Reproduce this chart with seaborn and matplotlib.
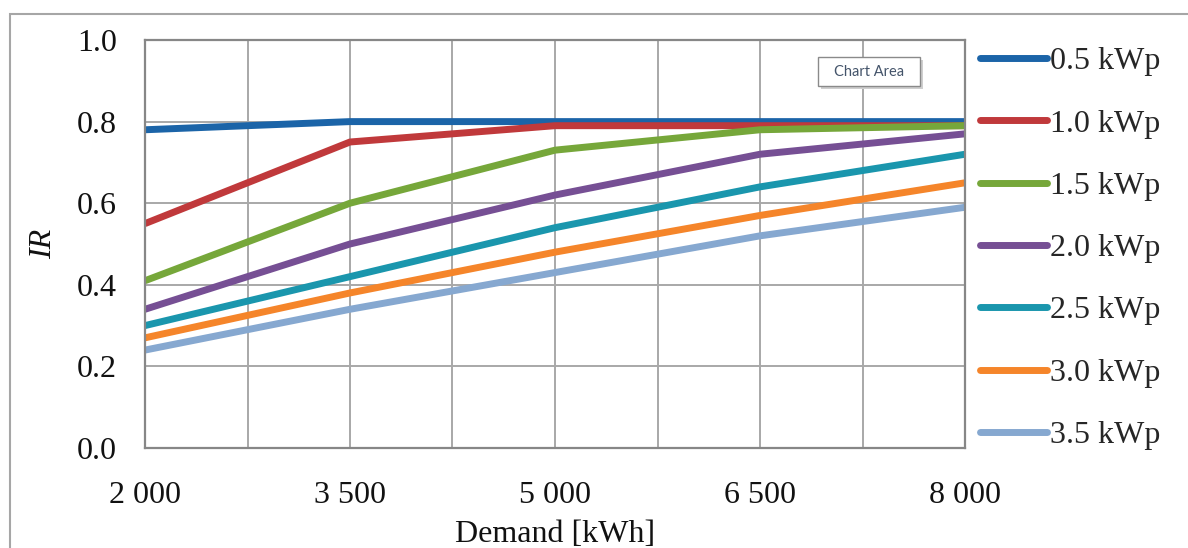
import matplotlib
matplotlib.use("Agg")
import numpy as np
import pandas as pd
import matplotlib.pyplot as plt
import seaborn as sns
from matplotlib.patches import Rectangle
from matplotlib.lines import Line2D
from matplotlib.ticker import FixedLocator, FixedFormatter, FormatStrFormatter

# ---- data ----
demand = [2000, 3500, 5000, 6500, 8000]
tick_labels = ["2 000", "3 500", "5 000", "6 500", "8 000"]
series_labels = ["0.5 kWp", "1.0 kWp", "1.5 kWp", "2.0 kWp", "2.5 kWp", "3.0 kWp", "3.5 kWp"]
ir_05 = [0.78, 0.80, 0.80, 0.80, 0.80]
ir_10 = [0.55, 0.75, 0.79, 0.79, 0.79]
ir_15 = [0.41, 0.60, 0.73, 0.78, 0.79]
ir_20 = [0.34, 0.50, 0.62, 0.72, 0.77]
ir_25 = [0.30, 0.42, 0.54, 0.64, 0.72]
ir_30 = [0.27, 0.38, 0.48, 0.57, 0.65]
ir_35 = [0.24, 0.34, 0.43, 0.52, 0.59]
y_ticks = [0.0, 0.2, 0.4, 0.6, 0.8, 1.0]
minor_x = [2750, 4250, 5750, 7250]
colors = ["#1b64a8", "#c0393b", "#76a73a", "#764f94", "#1a96ad", "#f5852a", "#86a8d0"]

all_series = [ir_05, ir_10, ir_15, ir_20, ir_25, ir_30, ir_35]
df = pd.DataFrame({
    "Demand": demand * len(series_labels),
    "IR": [v for s in all_series for v in s],
    "PV": [lab for lab in series_labels for _ in demand],
})

sns.set_style("white")
plt.rcParams["font.family"] = ["Liberation Serif", "DejaVu Serif"]

W, H = 1188, 548
fig = plt.figure(figsize=(W / 100, H / 100), dpi=100)
ax = fig.add_axes([145 / W, 1 - 448 / H, (965 - 145) / W, (448 - 40) / H])

lw = 5.0
sns.lineplot(data=df, x="Demand", y="IR", hue="PV", hue_order=series_labels,
             palette=colors, linewidth=lw, ax=ax, legend=False, sort=False,
             solid_capstyle="butt")

ax.set_xlim(2000, 8000)
ax.set_ylim(0, 1.0)
ax.xaxis.set_major_locator(FixedLocator(demand))
ax.xaxis.set_major_formatter(FixedFormatter(tick_labels))
ax.xaxis.set_minor_locator(FixedLocator(minor_x))
ax.yaxis.set_major_locator(FixedLocator(y_ticks))
ax.yaxis.set_major_formatter(FormatStrFormatter("%.1f"))

grid_c = "#a8a8a8"
ax.grid(True, which="major", color=grid_c, lw=1.4)
ax.grid(True, which="minor", axis="x", color=grid_c, lw=1.4)
ax.set_axisbelow(True)
for sp in ax.spines.values():
    sp.set_visible(True)
    sp.set_color("#878787")
    sp.set_linewidth(1.6)

ax.tick_params(axis="both", which="major", direction="out", length=8, width=1.6,
               color="#878787", labelsize=23, labelcolor="#111111")
ax.tick_params(axis="x", which="major", pad=16)
ax.tick_params(axis="y", which="major", pad=12)
ax.tick_params(axis="x", which="minor", length=0)

ax.set_xlabel("Demand [kWh]", fontsize=23, color="#111111", labelpad=7)
ax.set_ylabel("IR", fontsize=23, style="italic", color="#111111", labelpad=14)

handles = [Line2D([0], [0], color=c, lw=lw, solid_capstyle="round") for c in colors]
ax.legend(handles, series_labels, loc="upper left", bbox_to_anchor=(980 / W, 1 - 47 / H),
          bbox_transform=fig.transFigure, frameon=False, fontsize=23,
          handlelength=2.1, handletextpad=0.1, labelspacing=1.03, borderaxespad=0,
          borderpad=0)

# chart-area border
fig.patches.append(Rectangle((10 / W, -0.05), 1.2, 1.05 - 14 / H, transform=fig.transFigure,
                             fill=False, edgecolor="#a6a6a6", lw=1.5))

# "Chart Area" tooltip
fig.patches.append(Rectangle((821 / W, 1 - 89 / H), 102 / W, 29 / H, transform=fig.transFigure,
                             facecolor="#cfcfcf", edgecolor="none", zorder=5))
fig.patches.append(Rectangle((818 / W, 1 - 86 / H), 102 / W, 29 / H, transform=fig.transFigure,
                             facecolor="white", edgecolor="#8a8a8a", lw=1, zorder=6))
fig.text(869 / W, 1 - 72 / H, "Chart Area", ha="center", va="center", fontsize=10.5,
         family=["Lato", "DejaVu Sans"], color="#44546a", zorder=7)

fig.savefig("out.png", dpi=100)
